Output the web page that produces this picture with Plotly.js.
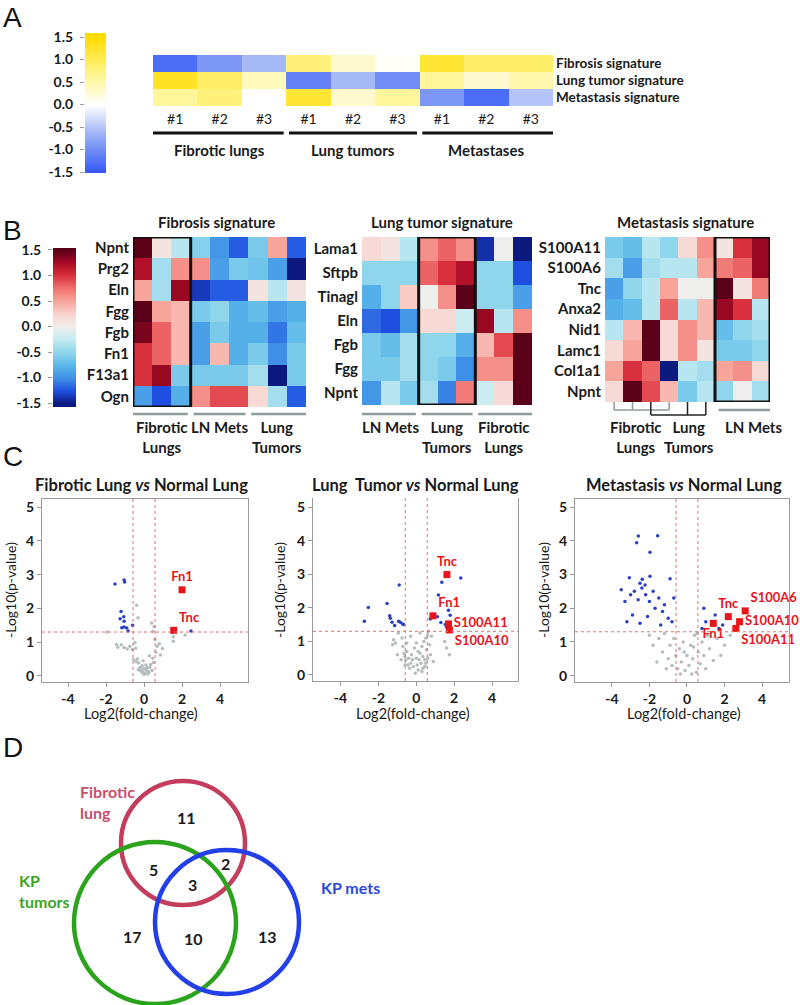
<!DOCTYPE html>
<html><head><meta charset="utf-8">
<script src="https://cdn.plot.ly/plotly-3.0.1.min.js"></script>
<style>html,body{margin:0;padding:0;background:#fff}#chart{width:800px;height:1005px}</style>
</head><body><div id="chart"></div>
<script>
// ================= DATA =================
// Panel A
const aSamples = ['#1','#2','#3','#1','#2','#3','#1','#2','#3'];
const aGroups = ['Fibrotic lungs','Lung tumors','Metastases'];
const aSignatures = ['Fibrosis signature','Lung tumor signature','Metastasis signature'];
const aFibrosisSig   = [-1.3,-0.9,-0.6, 0.8,0.3,0.05, 1.2,0.9,0.9];
const aLungTumorSig  = [1.3,0.9,0.4, -1.1,-0.6,-1.0, 0.6,0.3,0.5];
const aMetastasisSig = [0.6,0.8,0.0, 1.2,0.3,0.6, -0.9,-1.3,-0.5];
const colorbarTicks = [-1.5,-1.0,-0.5,0.0,0.5,1.0,1.5];
const colorbarTickText = ['-1.5','-1.0','-0.5','0.0','0.5','1.0','1.5'];

// Panel B1 : Fibrosis signature (cols: Fibrotic lungs x3, LN mets x3, Lung tumors x3)
const b1Genes = ['Npnt','Prg2','Eln','Fgg','Fgb','Fn1','F13a1','Ogn'];
const b1Groups = ['Fibrotic<br>Lungs','LN Mets','Lung<br>Tumors'];
const b1Npnt  = [1.5,0.1,-0.3, -0.55,-0.95,-1.2, -0.6,0.5,-1.2];
const b1Prg2  = [1.2,-0.4,0.6, 0.6,-0.9,-0.6, -0.65,-0.9,-1.5];
const b1Eln   = [0.5,-0.4,1.3, -1.35,-1.2,-1.2, 0.1,-0.3,0.1];
const b1Fgg   = [1.5,0.5,0.4, -0.6,-0.5,-0.8, -0.7,-0.9,-0.8];
const b1Fgb   = [1.4,0.8,0.4, -0.9,-0.6,-0.8, -0.8,-1.1,-0.7];
const b1Fn1   = [1.0,0.8,0.4, -0.9,0.4,-0.8, -0.6,-1.0,-0.6];
const b1F13a1 = [1.0,1.3,-0.6, -0.6,-0.6,-0.6, -0.4,-1.5,-0.6];
const b1Ogn   = [-0.9,-1.25,-0.8, 0.6,0.9,0.9, 0.2,-0.4,-1.2];

// Panel B2 : Lung tumor signature (cols: LN mets, Lung tumors, Fibrotic lungs)
const b2Genes = ['Lama1','Sftpb','Tinagl','Eln','Fgb','Fgg','Npnt'];
const b2Groups = ['LN Mets','Lung<br>Tumors','Fibrotic<br>Lungs'];
const b2Lama1  = [0.2,0.1,-0.3, 0.6,0.8,0.6, -1.4,0.0,-1.5];
const b2Sftpb  = [-0.5,-0.5,-0.5, 0.8,1.0,1.2, -0.5,-0.5,-1.25];
const b2Tinagl = [-0.8,-0.5,0.3, 0.0,0.6,1.5, -0.5,-0.5,-0.9];
const b2Eln    = [-1.15,-1.25,-0.95, 0.2,0.2,-0.2, 1.3,-0.3,0.6];
const b2Fgb    = [-0.6,-0.7,-0.4, -0.5,-0.5,-0.8, 0.4,0.9,1.5];
const b2Fgg    = [-0.6,-0.6,-0.4, -0.5,-0.6,-1.0, 0.6,0.6,1.5];
const b2Npnt   = [-0.95,-0.3,-0.6, -0.4,-1.05,0.7, -0.2,0.2,1.5];

// Panel B3 : Metastasis signature (cols: Fibrotic lungs / Lung tumors x6, LN mets x3)
const b3Genes = ['S100A11','S100A6','Tnc','Anxa2','Nid1','Lamc1','Col1a1','Npnt'];
const b3Groups = ['Fibrotic<br>Lungs','Lung<br>Tumors','LN Mets'];
const b3S100A11 = [-0.6,-0.7,-0.3,-0.5,0.2,0.6, 0.1,1.0,1.3];
const b3S100A6  = [-0.4,-0.9,-0.4,-0.3,-0.3,0.5, 0.7,0.8,1.3];
const b3Tnc     = [-0.9,-0.5,-0.3,0.5,0.0,0.0, 1.5,0.1,0.7];
const b3Anxa2   = [-0.8,-0.7,-0.3,0.8,-0.3,0.4, 1.3,1.0,-0.3];
const b3Nid1    = [-0.3,0.4,1.5,0.2,0.6,0.4, -0.7,-0.5,-0.4];
const b3Lamc1   = [0.2,0.5,1.5,0.2,0.6,0.1, -0.6,-0.6,-0.5];
const b3Col1a1  = [0.5,1.0,0.8,-1.5,-0.3,-0.4, 0.5,0.6,0.2];
const b3Npnt    = [0.2,1.5,0.9,0.4,-0.6,-0.3, -0.5,0.0,-0.4];

// Panel C : volcano plots
const xTickVals = [-4,-2,0,2,4];
const xTickText = ['-4','-2','0','2','4'];
const yTickVals = [0,1,2,3,4,5];
const fcThreshold = 0.58;
const pThreshold = 1.3;

const c1NsX = [-1.95,-1.45,-1.38,-1.2,-1.05,-0.88,-0.75,-0.62,-0.45,-0.39,-0.32,-0.55,-0.42,-0.35,-0.28,-0.22,-0.15,-0.1,-0.3,-0.05,0.0,0.05,0.1,0.15,0.2,0.25,0.3,-0.2,0.0,0.1,0.35,0.42,0.2,-0.1,0.45,0.5,0.62,0.4,0.53,0.47,0.69,0.8,0.97,0.86,0.58,1.54,1.54,2.16,-0.48,0.28,-0.05];
const c1NsY = [1.30,0.93,0.85,0.92,0.84,0.8,0.88,0.78,0.82,2.09,1.72,0.48,0.42,0.5,0.38,0.25,0.2,0.3,0.18,0.12,0.22,0.08,0.18,0.24,0.14,0.1,0.26,0.16,0.04,0.32,0.34,0.16,0.06,0.1,0.52,0.4,0.7,1.57,1.46,1.32,0.88,0.95,0.81,0.62,1.08,1.16,1.03,1.21,0.98,0.6,0.45];
const c1SigX = [-1.53,-1.05,-1.02,-1.21,-1.26,-1.07,-1.05,-1.17,-1.05,-0.91,-0.84,-0.6,2.47];
const c1SigY = [2.72,2.84,2.78,1.91,1.69,1.75,1.62,1.43,1.45,1.42,1.33,1.5,1.33];
const c1HitGenes = ['Fn1','Tnc'];
const c1HitX = [2.0,1.56];
const c1HitY = [2.55,1.35];

const c2NsX = [-1.25,-1.1,-1.2,-0.95,-0.75,-0.7,-0.65,-0.6,-0.55,-0.5,-0.45,-0.4,-0.35,-0.3,-0.25,-0.2,-0.15,-0.1,0.0,0.05,0.1,0.15,0.2,0.25,0.3,0.35,0.4,0.45,0.5,0.55,0.6,0.65,0.7,0.75,0.45,0.3,-0.05,-0.6,-0.8,1.6,1.75,1.5,0.9,0.2,-0.3,0.0,0.6,-1.0,0.1,0.8,-0.5,0.35,0.5];
const c2NsY = [0.9,0.95,1.05,1.25,1.1,0.85,0.65,0.55,0.45,0.7,0.3,0.5,0.2,0.35,0.6,0.45,0.25,0.8,0.5,0.3,0.15,0.45,0.65,0.35,0.85,0.55,1.0,0.25,1.1,0.75,1.2,1.3,0.9,0.6,0.45,0.1,0.05,0.3,0.45,0.8,0.6,1.0,0.4,1.25,1.15,0.95,0.5,0.6,0.7,1.15,0.95,0.2,0.35];
const c2SigX = [-2.53,-2.74,-1.54,-1.4,-1.37,-1.28,-1.14,-0.93,-0.84,-0.72,-0.67,-0.9,0.74,0.96,1.17,1.12,1.7,1.79,1.3,1.53,1.6,1.35,2.35];
const c2SigY = [2.01,1.6,2.13,1.76,1.69,1.57,1.47,1.6,1.57,1.52,1.5,2.68,1.67,1.79,2.38,1.73,1.93,1.78,1.56,1.5,1.42,2.76,2.89];
const c2HitGenes = ['Tnc','Fn1','S100A11','S100A10'];
const c2HitX = [1.62,0.88,1.7,1.75];
const c2HitY = [2.99,1.76,1.52,1.34];

const c3NsX = [-2.0,-1.8,-1.5,-1.3,-1.2,-1.0,-0.9,-0.8,-0.7,-0.6,-0.5,-0.4,-0.3,-0.2,-0.1,0.0,0.1,0.2,0.3,0.4,0.5,0.6,0.7,0.8,0.9,1.0,1.2,1.4,1.6,1.8,2.0,2.3,-1.1,-0.35,0.25,-1.6,0.55,-0.15,0.35,1.1];
const c3NsY = [1.2,0.9,1.1,0.7,1.25,0.5,0.9,0.3,1.1,0.6,0.2,0.8,0.4,1.0,0.15,0.6,0.3,0.9,0.5,1.2,0.1,0.7,0.35,1.0,0.6,0.2,0.8,0.45,1.1,0.6,0.9,1.2,0.2,0.05,0.05,0.4,1.25,0.7,0.85,1.2];
const c3SigX = [-2.59,-1.56,-2.68,-1.97,-3.07,-2.38,-1.97,-0.9,-2.5,-2.23,-3.5,-3.3,-3.0,-2.8,-2.6,-2.4,-2.2,-2.0,-1.8,-1.7,-1.5,-1.3,-1.2,-1.0,-2.9,-2.5,-1.4,-0.8,-2.1,-3.2,-0.7,0.8,1.0,1.5,1.9,1.7,0.9];
const c3SigY = [4.14,4.15,3.94,3.66,2.9,2.86,2.95,2.87,2.74,2.69,2.55,2.2,2.4,2.5,2.25,2.6,2.4,2.2,2.5,2.0,2.3,1.9,2.1,1.7,1.8,1.55,1.5,1.6,1.75,1.6,2.3,1.4,1.6,1.8,1.5,1.4,2.0];
const c3HitGenes = ['Tnc','S100A6','S100A10','Fn1','S100A11'];
const c3HitX = [2.2,3.1,2.8,1.4,2.6];
const c3HitY = [1.75,1.92,1.6,1.55,1.4];

// Panel D : Venn
const vennSets = ['Fibrotic<br>lung','KP<br>tumors','KP mets'];
const vennRegions = ['Fibrotic only','Fibrotic+Tumors','Fibrotic+Mets','All three','Tumors only','Tumors+Mets','Mets only'];
const vennCounts = [11,5,2,3,17,10,13];

// ================= LAYOUT HELPERS =================
const W = 800, H = 1005;
const fx = p => p / W;
const fy = p => 1 - p / H;
const domX = (a, b) => [a / W, b / W];
const domY = (top, bottom) => [1 - bottom / H, 1 - top / H];
const FONT = 'Lato, "Liberation Sans", Arial, sans-serif';
const TXT = '#1a1a1a';
const bold = (s) => ({family: FONT, size: s, color: TXT, weight: 'bold'});
const idx = arr => arr.map((_, i) => i);

const csA = [[0,'#3458f6'],[0.25,'#8ea7f5'],[0.5,'#ffffff'],[0.75,'#fff382'],[1,'#ffdc00']];
const csB = [[0,'#0c1a80'],[0.083,'#1f4fe0'],[0.167,'#3f8fe6'],[0.25,'#5ab7ea'],[0.333,'#8fd6ec'],[0.42,'#c4ebf1'],[0.5,'#eeeeec'],
             [0.58,'#f9d6d0'],[0.667,'#f7a59b'],[0.75,'#f0706e'],[0.833,'#d8303c'],[0.917,'#a80a24'],[1,'#5a0018']];

const traces = [];
const annotations = [];
const shapes = [];
const layout = {
  width: W, height: H, margin: {l:0, r:0, t:0, b:0},
  paper_bgcolor: '#fff', plot_bgcolor: 'rgba(0,0,0,0)',
  font: {family: FONT, color: TXT}, showlegend: false,
  annotations, shapes
};

function hideAxis(domain, range, anchor) {
  return {domain, range, anchor, visible: false, fixedrange: true};
}
function label(text, x, y, font, extra) {
  annotations.push(Object.assign({text, x, y, xref:'paper', yref:'paper', showarrow:false, font, xanchor:'center', yanchor:'middle'}, extra || {}));
}

// Panel letters
const letterFont = {family: '"Liberation Sans", Arial, sans-serif', size: 28, color: '#111'};
label('A', fx(1), fy(18), letterFont, {xanchor:'left'});
label('B', fx(1), fy(230), letterFont, {xanchor:'left'});
label('C', fx(1), fy(456), letterFont, {xanchor:'left'});
label('D', fx(1), fy(747), letterFont, {xanchor:'left'});

// ================= PANEL A =================
traces.push({type:'heatmap', xaxis:'x', yaxis:'y', z:[aFibrosisSig, aLungTumorSig, aMetastasisSig],
  x: idx(aSamples), y: idx(aSignatures), zmin:-1.5, zmax:1.5, colorscale: csA, showscale:false, hoverinfo:'skip'});
layout.xaxis = {domain: domX(153,553), range:[-0.5,8.5], anchor:'y', tickvals: idx(aSamples), ticktext: aSamples,
  ticks:'', showgrid:false, zeroline:false, showline:false, tickfont:{family:FONT,size:14,color:TXT}, ticklabelstandoff:3, fixedrange:true};
layout.yaxis = {domain: domY(55,106), range:[2.5,-0.5], anchor:'x', side:'right', tickvals: idx(aSignatures), ticktext: aSignatures,
  ticks:'', showgrid:false, zeroline:false, showline:false, tickfont: bold(13.5), ticklabelstandoff:2, fixedrange:true};
aGroups.forEach((g, i) => {
  shapes.push({type:'line', xref:'x', yref:'paper', x0: i*3-0.5+(i>0?0.06:0), x1: i*3+2.5-(i<2?0.06:0), y0: fy(133), y1: fy(133), line:{color:'#111', width:3}});
  annotations.push({text:g, xref:'x', yref:'paper', x: i*3+1, y: fy(150), showarrow:false, font: bold(15), yanchor:'middle'});
});
// colorbar A (gradient drawn through the colorscale at the tick values)
traces.push({type:'heatmap', xaxis:'x2', yaxis:'y2', z: colorbarTicks.map(t => [t, t]), x:[0,1], y: colorbarTicks,
  zsmooth:'best', zmin:-1.5, zmax:1.5, colorscale: csA, showscale:false, hoverinfo:'skip'});
layout.xaxis2 = hideAxis(domX(85,106), [-0.5,1.5], 'y2');
layout.yaxis2 = {domain: domY(33,173), range:[-1.522,1.589], anchor:'x2', side:'left', tickvals: colorbarTicks, ticktext: colorbarTickText,
  ticks:'outside', ticklen:4, tickcolor:'#999', showgrid:false, zeroline:false, showline:false, tickfont: bold(14), ticklabelstandoff:4, fixedrange:true};

// ================= PANEL B =================
function bHeat(n, rows, genes, xd, yd, title, titleX, boxFrom) {
  traces.push({type:'heatmap', xaxis:'x'+n, yaxis:'y'+n, z: rows, x: idx(rows[0]), y: idx(genes),
    zmin:-1.5, zmax:1.5, colorscale: csB, showscale:false, hoverinfo:'skip'});
  layout['xaxis'+n] = {domain: xd, range:[-0.5,8.5], anchor:'y'+n, showticklabels:false, ticks:'', showgrid:false, zeroline:false, showline:false, fixedrange:true};
  layout['yaxis'+n] = {domain: yd, range:[genes.length-0.5,-0.5], anchor:'x'+n, side:'left', tickvals: idx(genes), ticktext: genes,
    ticks:'', showgrid:false, zeroline:false, showline:false, tickfont: bold(15), ticklabelstandoff:3, fixedrange:true};
  shapes.push({type:'rect', xref:'x'+n, yref:'y'+n, x0: boxFrom-0.5, x1: boxFrom+2.5, y0:-0.5, y1: genes.length-0.5,
    line:{color:'#111', width:3}, fillcolor:'rgba(0,0,0,0)', layer:'above'});
  label(title, fx(titleX), fy(222), bold(15));
}
bHeat(3, [b1Npnt,b1Prg2,b1Eln,b1Fgg,b1Fgb,b1Fn1,b1F13a1,b1Ogn], b1Genes, domX(133,306), domY(237,407), 'Fibrosis signature', 216, 0);
bHeat(5, [b2Lama1,b2Sftpb,b2Tinagl,b2Eln,b2Fgb,b2Fgg,b2Npnt], b2Genes, domX(362,532), domY(237,405), 'Lung tumor signature', 442, 3);
bHeat(6, [b3S100A11,b3S100A6,b3Tnc,b3Anxa2,b3Nid1,b3Lamc1,b3Col1a1,b3Npnt], b3Genes, domX(605,770), domY(237,402), 'Metastasis signature', 685, 6);

// group bars and labels for B1 & B2
[[3, b1Groups],[5, b2Groups]].forEach(([n, groups]) => {
  groups.forEach((g, i) => {
    shapes.push({type:'line', xref:'x'+n, yref:'paper', x0: i*3-0.5+(i>0?0.15:0), x1: i*3+2.5-(i<2?0.15:0), y0: fy(414), y1: fy(414), line:{color:'#8e9b9b', width:2.5}});
    annotations.push({text:g, xref:'x'+n, yref:'paper', x: i*3+1, y: fy(416), showarrow:false, font: bold(15), yanchor:'top', align:'center'});
  });
});
// B3 cluster brackets
const grayBr = {color:'#8e9b9b', width:1.5}, blackBr = {color:'#222', width:1.5};
[0,1,3].forEach(c => shapes.push({type:'line', xref:'x6', yref:'paper', x0:c, x1:c, y0:fy(402), y1:fy(410), line:grayBr}));
shapes.push({type:'line', xref:'x6', yref:'paper', x0:0, x1:3, y0:fy(410), y1:fy(410), line:grayBr});
[2,4,5].forEach(c => shapes.push({type:'line', xref:'x6', yref:'paper', x0:c, x1:c, y0:fy(402), y1:fy(415), line:blackBr}));
shapes.push({type:'line', xref:'x6', yref:'paper', x0:2, x1:5, y0:fy(415), y1:fy(415), line:blackBr});
shapes.push({type:'line', xref:'x6', yref:'paper', x0:5.7, x1:8.5, y0:fy(410), y1:fy(410), line:{color:'#8e9b9b', width:2.5}});
annotations.push({text:b3Groups[0], xref:'x6', yref:'paper', x:1.2, y:fy(416), showarrow:false, font:bold(15), yanchor:'top', align:'center'});
annotations.push({text:b3Groups[1], xref:'x6', yref:'paper', x:4.1, y:fy(416), showarrow:false, font:bold(15), yanchor:'top', align:'center'});
annotations.push({text:b3Groups[2], xref:'x6', yref:'paper', x:7.6, y:fy(416), showarrow:false, font:bold(15), yanchor:'top', align:'center'});

// colorbar B
traces.push({type:'heatmap', xaxis:'x4', yaxis:'y4', z: colorbarTicks.map(t => [t, t]), x:[0,1], y: colorbarTicks,
  zsmooth:'best', zmin:-1.5, zmax:1.5, colorscale: csB, showscale:false, hoverinfo:'skip'});
layout.xaxis4 = hideAxis(domX(53,76), [-0.5,1.5], 'y4');
layout.yaxis4 = {domain: domY(248,407), range:[-1.578,1.539], anchor:'x4', side:'left', tickvals: colorbarTicks, ticktext: colorbarTickText,
  ticks:'outside', ticklen:4, tickcolor:'#999', showgrid:false, zeroline:false, showline:false, tickfont: bold(14), ticklabelstandoff:4, fixedrange:true};

// ================= PANEL C =================
function volcano(n, cfg) {
  const xa = 'x'+n, ya = 'y'+n;
  traces.push({type:'scatter', mode:'markers', xaxis:xa, yaxis:ya, x:cfg.nsX, y:cfg.nsY, marker:{size:3.5, color:'#b4bfbd'}, hoverinfo:'skip'});
  traces.push({type:'scatter', mode:'markers', xaxis:xa, yaxis:ya, x:cfg.sigX, y:cfg.sigY, marker:{size:3.5, color:'#2b3fc4'}, hoverinfo:'skip'});
  traces.push({type:'scatter', mode:'markers+text', xaxis:xa, yaxis:ya, x:cfg.hitX, y:cfg.hitY, text:cfg.hitGenes, textposition:cfg.textpos,
    marker:{size:7, symbol:'square', color:'#e8141a'}, textfont:{family:FONT, size:13, color:'#e8141a', weight:'bold'}, hoverinfo:'skip', cliponaxis:false});
  layout['xaxis'+n] = {domain: cfg.xd, range: cfg.xr, anchor: ya, tickvals: xTickVals, ticktext: xTickText, ticks:'outside', ticklen:4, tickcolor:'#999',
    showline:true, linecolor:'#9a9a9a', linewidth:1, mirror: cfg.box, showgrid:false, zeroline:false, tickfont: bold(14), fixedrange:true};
  layout['yaxis'+n] = {domain: cfg.yd, range: cfg.yr, anchor: xa, tickvals: yTickVals, ticks:'outside', ticklen:4, tickcolor:'#999',
    showline:true, linecolor:'#9a9a9a', linewidth:1, mirror: true, showgrid:false, zeroline:false, tickfont: bold(14), fixedrange:true};
  const dot = {color:'#e07070', width:1, dash:'dot'};
  [-fcThreshold, fcThreshold].forEach(v => shapes.push({type:'line', xref:xa, yref: ya+' domain', x0:v, x1:v, y0:0, y1:1, line:dot}));
  shapes.push({type:'line', xref: xa+' domain', yref: ya, x0:0, x1:1, y0:pThreshold, y1:pThreshold, line:dot});
  label(cfg.title, fx(cfg.titleX), fy(485), bold(16.5));
  label('-Log10(p-value)', fx(cfg.yTitleX), fy(590), {family:FONT, size:14, color:TXT}, {textangle:-90});
  label('Log2(fold-change)', fx(cfg.xTitleX), fy(713), {family:FONT, size:14.5, color:TXT});
}
volcano(7, {nsX:c1NsX, nsY:c1NsY, sigX:c1SigX, sigY:c1SigY, hitX:c1HitX, hitY:c1HitY, hitGenes:c1HitGenes,
  textpos:['top center','top right'], xd:domX(42,248), yd:domY(499,682), xr:[-5.37,5.47], yr:[-0.18,5.24], box:true,
  title:'Fibrotic Lung <i>vs</i> Normal Lung', titleX:141, yTitleX:10, xTitleX:141});
volcano(8, {nsX:c2NsX, nsY:c2NsY, sigX:c2SigX, sigY:c2SigY, hitX:c2HitX, hitY:c2HitY, hitGenes:c2HitGenes,
  textpos:['top center','top right','middle right','bottom right'], xd:domX(313,518), yd:domY(498,681), xr:[-5.45,5.37], yr:[-0.18,5.27], box:false,
  title:'Lung\u00a0 Tumor <i>vs</i> Normal Lung', titleX:415, yTitleX:279, xTitleX:413});
volcano(9, {nsX:c3NsX, nsY:c3NsY, sigX:c3SigX, sigY:c3SigY, hitX:c3HitX, hitY:c3HitY, hitGenes:c3HitGenes,
  textpos:['top center','top right','middle right','bottom center','bottom right'], xd:domX(575,789), yd:domY(499,682), xr:[-5.96,5.43], yr:[-0.19,5.24], box:true,
  title:'Metastasis <i>vs</i> Normal Lung', titleX:684, yTitleX:543, xTitleX:684});

// ================= PANEL D (Venn) =================
const vennCircles = [
  {cx:183, cy:843, r:62, color:'#c23e5c'},
  {cx:155, cy:923, r:81, color:'#2ca31c'},
  {cx:227, cy:922, r:72, color:'#2340e8'}
];
vennCircles.forEach(c => shapes.push({type:'circle', xref:'paper', yref:'paper', x0:fx(c.cx-c.r), x1:fx(c.cx+c.r), y0:fy(c.cy+c.r), y1:fy(c.cy-c.r),
  line:{color:c.color, width:4.5}, fillcolor:'rgba(0,0,0,0)', layer:'above'}));
const vennSetPos = [{x:78, y:802, color:'#c8506c'}, {x:17, y:891, color:'#3aa51f'}, {x:319, y:887, color:'#2a48e0'}];
vennSets.forEach((s, i) => label(s, fx(vennSetPos[i].x), fy(vennSetPos[i].y), {family:FONT, size:16, color:vennSetPos[i].color, weight:'bold'}, {xanchor:'left', align:'left'}));
const vennRegionPos = [[186,817],[153,869],[225,863],[192,884],[132,936],[193,938],[267,936]];
vennCounts.forEach((c, i) => label(String(c), fx(vennRegionPos[i][0]), fy(vennRegionPos[i][1]), bold(16)));

Plotly.newPlot('chart', traces, layout, {staticPlot:true, displayModeBar:false});
</script>
</body></html>
